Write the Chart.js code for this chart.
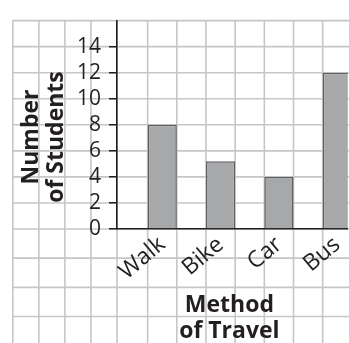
<!DOCTYPE html>
<html>
<head>
<meta charset="utf-8">
<script src="https://cdn.jsdelivr.net/npm/chart.js@4/dist/chart.umd.min.js"></script>
<style>
html,body{margin:0;padding:0;background:#fff;overflow:hidden;}
#wrap{width:349px;height:343px;}
</style>
</head>
<body>
<div id="wrap"><canvas id="c" width="349" height="343"></canvas></div>
<script>
// ---- data ----
const categories = ['Walk', 'Bike', 'Car', 'Bus'];
const students = [8, 5.2, 4, 12];
const yTicks = [0, 2, 4, 6, 8, 10, 12, 14];
const yTitle = ['Number', 'of Students'];
const xTitle = ['Method', 'of Travel'];

const INK = '#231f20';
const GRID = '#c6c6c6';

// grid paper background, spaced by the chart's scales
const paper = {
  id: 'paper',
  beforeDraw(chart) {
    const {ctx, scales: {x, y}, chartArea: ca, width, height} = chart;
    const cellY = y.getPixelForValue(0) - y.getPixelForValue(2);
    const cellX = x.getPixelForValue(1) - x.getPixelForValue(0);
    const top = y.getPixelForValue(16);
    let left = ca.left;
    while (left - cellY > 0) left -= cellY;
    ctx.save();
    ctx.fillStyle = '#fff';
    ctx.fillRect(0, 0, width, height);
    ctx.strokeStyle = GRID;
    ctx.lineWidth = 1.6;
    ctx.beginPath();
    for (let px = left; px < ca.left + 1; px += cellY) { ctx.moveTo(px, top); ctx.lineTo(px, height); }
    for (let v = 1; x.getPixelForValue(v) < width; v++) { const px = x.getPixelForValue(v); ctx.moveTo(px, top); ctx.lineTo(px, height); }
    for (let v = 0; v <= 16; v += 2) { const py = y.getPixelForValue(v); ctx.moveTo(left, py); ctx.lineTo(width, py); }
    for (let py = ca.bottom + cellX; py < height; py += cellX) { ctx.moveTo(left, py); ctx.lineTo(width, py); }
    ctx.stroke();
    ctx.restore();
  }
};

// axis titles (two-line, bold)
const titles = {
  id: 'titles',
  afterDraw(chart) {
    const {ctx, chartArea: ca} = chart;
    ctx.save();
    ctx.fillStyle = INK;
    ctx.font = 'bold 23px "Open Sans"';
    ctx.textAlign = 'center';
    ctx.textBaseline = 'alphabetic';
    ctx.save();
    ctx.translate(0, 137);
    ctx.rotate(-Math.PI / 2);
    ctx.fillText(yTitle[0], 0, 38);
    ctx.fillText(yTitle[1], 0, 63);
    ctx.restore();
    const cx = (ca.left + ca.right) / 2 - 3;
    ctx.fillText(xTitle[0], cx, 312);
    ctx.fillText(xTitle[1], cx, 338);
    ctx.restore();
  }
};

new Chart(document.getElementById('c'), {
  type: 'bar',
  data: {
    datasets: [{
      data: categories.map((c, i) => ({x: 2 * i + 1.5, y: students[i]})),
      backgroundColor: '#a7a8aa',
      borderColor: '#5d5e60',
      borderWidth: 1.5,
      borderSkipped: 'bottom',
      categoryPercentage: 1,
      barPercentage: 0.5
    }]
  },
  options: {
    responsive: false,
    devicePixelRatio: 1,
    animation: false,
    layout: {padding: {top: 6, left: 0, right: 0, bottom: 0}},
    plugins: {legend: {display: false}, tooltip: {enabled: false}},
    scales: {
      x: {
        type: 'linear',
        offset: false,
        min: -0.05,
        max: 7.86,
        afterFit(s) { s.height = 114; },
        afterBuildTicks(s) { s.ticks = categories.map((c, i) => ({value: 2 * i + 1.5})); },
        grid: {display: false, offset: false},
        border: {display: true, color: INK, width: 1.6},
        ticks: {
          autoSkip: false,
          minRotation: 40,
          maxRotation: 40,
          padding: -6,
          color: INK,
          font: {family: '"Open Sans"', size: 23},
          callback: (v) => categories[Math.round((v - 1.5) / 2)]
        }
      },
      y: {
        min: 0,
        max: 16,
        afterFit(s) { s.width = 117; },
        afterBuildTicks(s) { s.ticks = yTicks.map(v => ({value: v})); },
        grid: {drawOnChartArea: false, drawTicks: true, tickLength: 8, color: INK, lineWidth: 1.5},
        border: {display: true, color: INK, width: 1.6},
        ticks: {
          padding: 8,
          color: INK,
          font: {family: '"Open Sans"', size: 21}
        }
      }
    }
  },
  plugins: [paper, titles]
});
</script>
</body>
</html>
